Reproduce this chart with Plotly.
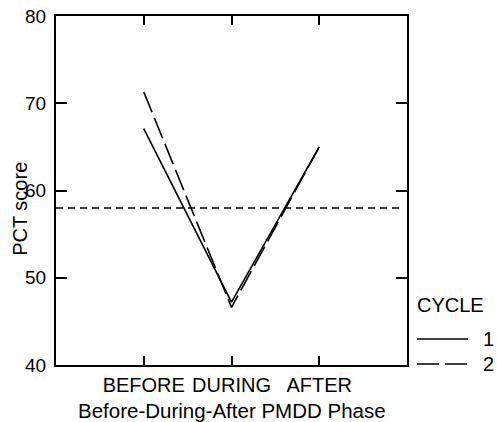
import plotly.graph_objects as go

phases = ["BEFORE", "DURING", "AFTER"]
phase_pos = [1, 2, 3]
cycle1 = [67.1, 47.2, 65.0]
cycle2 = [71.3, 46.6, 65.0]
ref_level = 58.0
y_ticks = [40, 50, 60, 70, 80]
legend_title = "CYCLE"
legend_labels = ["1", "2"]

FONT = "Arial, Liberation Sans, Helvetica, sans-serif"
style1 = dict(color="black", width=1.6)
style2 = dict(color="black", width=1.6, dash="22px,6px")

fig = go.Figure()
fig.add_trace(go.Scatter(x=phase_pos, y=cycle1, mode="lines", name=legend_labels[0],
                         line=style1, showlegend=False))
fig.add_trace(go.Scatter(x=phase_pos, y=cycle2, mode="lines", name=legend_labels[1],
                         line=style2, showlegend=False))

fig.add_shape(type="line", xref="paper", yref="y", x0=0, x1=0.985,
              y0=ref_level, y1=ref_level,
              line=dict(color="black", width=1.6, dash="7px,5px"))

axis_common = dict(showline=True, linecolor="black", linewidth=2, mirror="ticks",
                   ticks="inside", tickcolor="black", tickwidth=1.6,
                   showgrid=False, zeroline=False, automargin=False)

fig.update_xaxes(range=[0, 4], tickvals=phase_pos, ticktext=phases, ticklen=9,
                 tickfont=dict(family=FONT, size=20, color="black"),
                 ticklabelstandoff=1, **axis_common)
fig.update_yaxes(range=[40, 80], tickvals=y_ticks, ticklen=11,
                 tickfont=dict(family=FONT, size=19, color="black"),
                 ticklabelstandoff=4, **axis_common)

fig.add_annotation(text="PCT score", xref="paper", yref="paper", x=-0.103, y=0.447,
                   xanchor="center", yanchor="middle", textangle=-90, showarrow=False,
                   font=dict(family=FONT, size=20, color="black"))
fig.add_annotation(text="Before-During-After PMDD Phase", xref="paper", yref="paper",
                   x=0.5, y=-0.129, xanchor="center", yanchor="middle", showarrow=False,
                   font=dict(family=FONT, size=20.5, color="black"))

# custom legend (placed like the reference)
fig.add_annotation(text=legend_title, xref="paper", yref="paper", x=1.0285, y=0.172,
                   xanchor="left", yanchor="middle", showarrow=False, xshift=-2,
                   font=dict(family=FONT, size=20, color="black"))
for lab, st, yy in [(legend_labels[0], style1, 0.0745), (legend_labels[1], style2, 0.0029)]:
    fig.add_shape(type="line", xref="paper", yref="paper", x0=1.0285, x1=1.1738,
                  y0=yy, y1=yy, line=st)
    fig.add_annotation(text=lab, xref="paper", yref="paper", x=1.2308, y=yy,
                       xanchor="center", yanchor="middle", showarrow=False,
                       font=dict(family=FONT, size=20, color="black"))

fig.update_layout(
    width=497, height=422,
    margin=dict(l=56, r=90, t=16, b=57, autoexpand=False),
    paper_bgcolor="white", plot_bgcolor="white",
    showlegend=False,
)

fig.write_html("out.html")
